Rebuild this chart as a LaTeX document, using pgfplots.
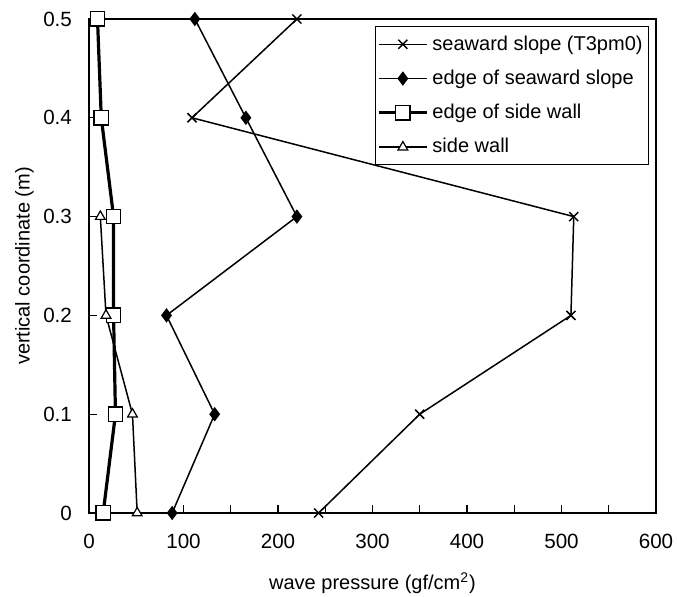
\documentclass[border=0pt]{standalone}
\usepackage{fontspec}
\setmainfont{Liberation Sans}
\usepackage{pgfplots}
\pgfplotsset{compat=1.18}

\begin{document}
\begin{tikzpicture}
\begin{axis}[
    scale only axis,
    width=283.5pt,
    height=247pt,
    xmin=0, xmax=600,
    ymin=0, ymax=0.5,
    xtick={0,100,...,600},
    minor xtick={50,150,...,550},
    ytick={0,0.1,...,0.5},
    tick align=inside,
    major tick length=4pt,
    minor tick length=4pt,
    tick style={black, line width=0.6pt},
    axis line style={line width=0.8pt},
    xtick pos=bottom, ytick pos=left,
    /pgf/number format/assume math mode=true,
    ticklabel style={font=\fontsize{10.3}{12}\selectfont},
    xticklabel style={yshift=-7pt},
    yticklabel style={xshift=-5pt, /pgf/number format/.cd, fixed, precision=1},
    label style={font=\fontsize{10}{12}\selectfont},
    xlabel={wave pressure (gf/cm\textsuperscript{2})},
    ylabel={vertical coordinate (m)},
    xlabel style={yshift=-5pt},
    ylabel style={at={(axis description cs:-0.114,0.5)}, anchor=center},
    legend cell align=left,
    legend style={
      at={(0.988,0.986)}, anchor=north east,
      font=\fontsize{10}{12}\selectfont,
      draw=black, line width=0.6pt,
      inner xsep=1pt, inner ysep=2.5pt,
      row sep=4.4pt,
    },
    legend image code/.code={
      \draw[mark repeat=2, mark phase=2] plot coordinates {(0pt,0pt) (12pt,0pt) (24pt,0pt)};
    },
  ]

  % seaward slope (T3pm0)
  \addplot[black, line width=0.75pt, mark=x, mark size=3.2pt] coordinates {
    (243,0) (350,0.1) (510,0.2) (513,0.3) (109,0.4) (220,0.5)
  };
  % edge of seaward slope
  \addplot[black, line width=0.75pt, mark=diamond*, mark size=3pt] coordinates {
    (88,0) (133,0.1) (82,0.2) (220,0.3) (166,0.4) (112,0.5)
  };
  % edge of side wall
  \addplot[black, line width=1.6pt, mark=square*, mark size=3.6pt,
    mark options={fill=white, line width=0.7pt}] coordinates {
    (15,0) (28,0.1) (26,0.2) (26,0.3) (13,0.4) (9,0.5)
  };
  % side wall
  \addplot[black, line width=0.75pt, mark=triangle*, mark size=2.8pt,
    mark options={fill=white, line width=0.6pt}] coordinates {
    (51,0) (46,0.1) (18,0.2) (12,0.3)
  };

  \legend{seaward slope (T3pm0), edge of seaward slope, edge of side wall, side wall}
\end{axis}
\pgfresetboundingbox
\path[use as bounding box] (current axis.south west) ++(-44.5pt,-42pt) rectangle ++(338.5pt,298.5pt);
\end{tikzpicture}
\end{document}
